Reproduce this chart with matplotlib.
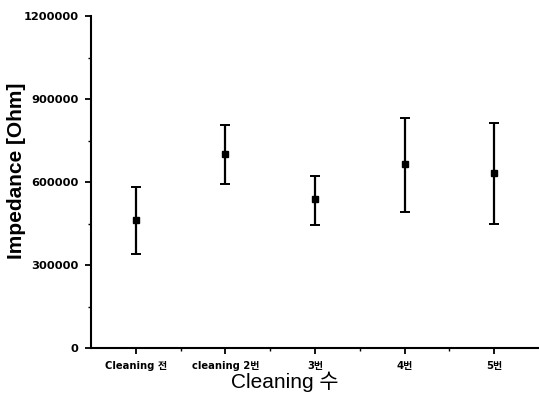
import matplotlib
matplotlib.use("Agg")
import matplotlib.pyplot as plt
from matplotlib.ticker import MultipleLocator

plt.rcParams['font.family'] = ['Liberation Sans', 'Noto Sans CJK KR', 'DejaVu Sans']
tick_family = ['DejaVu Sans', 'Noto Sans CJK KR']

categories = ["Cleaning 전", "cleaning 2번", "3번", "4번", "5번"]
means = [462000, 700000, 537000, 665000, 634000]
err_low = [122000, 108000, 91000, 172000, 187000]
err_high = [120000, 108000, 85000, 167000, 180000]
yticks = [0, 300000, 600000, 900000, 1200000]

fig = plt.figure(figsize=(5.39, 3.97), dpi=100)
ax = fig.add_axes([0.169, 0.1234, 0.831, 0.836])

x = list(range(1, len(categories) + 1))
ax.errorbar(x, means, yerr=[err_low, err_high], fmt='s', color='black',
            ecolor='black', elinewidth=1.6, capsize=3.5, capthick=1.4,
            markersize=5)

ax.set_xlim(0.5, 5.5)
ax.set_ylim(0, 1200000)
ax.set_xticks(x)
ax.set_xticklabels(categories, fontsize=7.2, fontweight='bold', family=tick_family)
ax.set_xticks([1.5, 2.5, 3.5, 4.5], minor=True)
ax.set_yticks(yticks)
ax.set_yticklabels([str(v) for v in yticks], fontsize=8.2, fontweight='bold', family=tick_family)
ax.yaxis.set_minor_locator(MultipleLocator(150000))

ax.tick_params(axis='both', which='major', direction='out', length=4, width=1.3)
ax.tick_params(axis='x', which='major', pad=5)
ax.tick_params(axis='y', which='major', pad=5)
ax.tick_params(axis='both', which='minor', direction='out', length=2.5, width=1.0)

for s in ['top', 'right']:
    ax.spines[s].set_visible(False)
for s in ['left', 'bottom']:
    ax.spines[s].set_linewidth(1.5)

ax.set_ylabel("Impedance [Ohm]", fontsize=15, fontweight='bold')
ax.yaxis.set_label_coords(-0.145, 0.535)
ax.set_xlabel("Cleaning 수", fontsize=15)
ax.xaxis.set_label_coords(0.433, -0.072)

fig.savefig("out.png", dpi=100)
